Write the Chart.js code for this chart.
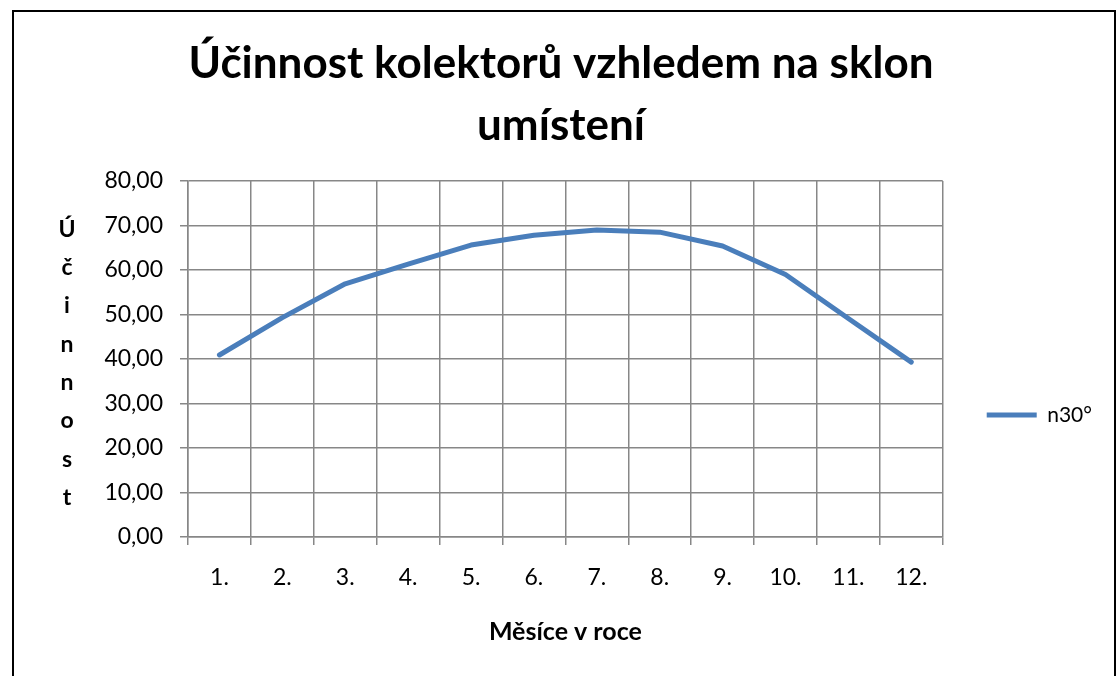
<!DOCTYPE html>
<html>
<head>
<meta charset="utf-8">
<script src="https://cdn.jsdelivr.net/npm/chart.js@4.4.1/dist/chart.umd.min.js"></script>
<style>
  html, body { margin: 0; padding: 0; background: #fff; }
  #wrap { position: absolute; left: 0; top: 0; width: 1116px; height: 676px; }
</style>
</head>
<body>
<div id="wrap"><canvas id="c" width="1116" height="676"></canvas></div>
<script>
const chartTitle = ['Účinnost kolektorů vzhledem na sklon', 'umístení'];
const months = ['1.', '2.', '3.', '4.', '5.', '6.', '7.', '8.', '9.', '10.', '11.', '12.'];
const seriesName = 'n30°';
const efficiency = [40.9, 49.3, 56.9, 61.3, 65.6, 67.8, 69.0, 68.5, 65.4, 59.0, 49.1, 39.3];
const yTitle = 'Účinnost';
const xTitle = 'Měsíce v roce';
const yMin = 0, yMax = 80, yStep = 10;

const FONT = 'Lato, "Open Sans", "DejaVu Sans", sans-serif';
const GRID = '#878787';

const framePlugin = {
  id: 'frame',
  beforeDraw(chart) {
    const ctx = chart.ctx;
    ctx.save();
    ctx.fillStyle = '#fff';
    ctx.fillRect(0, 0, chart.width, chart.height);
    ctx.strokeStyle = '#000';
    ctx.lineWidth = 2;
    ctx.strokeRect(13, 11, 1102, 700);
    ctx.restore();
  }
};

const yTitlePlugin = {
  id: 'stackedYTitle',
  afterDraw(chart) {
    const ctx = chart.ctx;
    const a = chart.chartArea;
    const letters = Array.from(yTitle);
    const step = 38.3;
    const cy = (a.top + a.bottom) / 2 + 4.5;
    ctx.save();
    ctx.font = 'bold 23px ' + FONT;
    ctx.fillStyle = '#000';
    ctx.textAlign = 'center';
    ctx.textBaseline = 'middle';
    letters.forEach((ch, i) => {
      ctx.fillText(ch, 67, cy + (i - (letters.length - 1) / 2) * step);
    });
    ctx.restore();
  }
};

new Chart(document.getElementById('c'), {
  type: 'line',
  data: {
    labels: months,
    datasets: [{
      label: seriesName,
      data: efficiency,
      borderColor: '#4a7ebb',
      backgroundColor: '#4a7ebb',
      borderWidth: 5,
      borderCapStyle: 'round',
      borderJoinStyle: 'round',
      pointRadius: 0,
      pointHoverRadius: 0,
      pointStyle: 'line',
      tension: 0,
      fill: false
    }]
  },
  plugins: [framePlugin, yTitlePlugin],
  options: {
    responsive: false,
    animation: false,
    events: [],
    layout: { padding: { left: 20, right: 14, top: 0, bottom: 0 } },
    plugins: {
      tooltip: { enabled: false },
      title: {
        display: true,
        text: chartTitle,
        color: '#000',
        font: { family: FONT, size: 44, weight: 'bold', lineHeight: 62 / 44 },
        padding: { top: 33, bottom: 24 }
      },
      legend: {
        display: true,
        position: 'right',
        fullSize: false,
        align: 'center',
        title: { display: true, text: '', font: { size: 10, lineHeight: 1.2 }, padding: { top: 100, bottom: 0 } },
        labels: {
          usePointStyle: true,
          pointStyle: 'line',
          pointStyleWidth: 50,
          padding: 44,
          color: '#000',
          font: { family: FONT, size: 21 }
        }
      }
    },
    scales: {
      x: {
        type: 'category',
        offset: true,
        grid: { display: true, offset: true, color: GRID, lineWidth: 1.5, tickLength: 8, drawTicks: true },
        border: { display: true, color: GRID, width: 1.5 },
        ticks: { color: '#000', font: { family: FONT, size: 23 }, padding: 19, maxRotation: 0, autoSkip: false },
        title: { display: true, text: xTitle, color: '#000', font: { family: FONT, size: 25, weight: 'bold', lineHeight: 1.2 }, padding: { top: 0, bottom: 29 } },
        afterFit(s) { s.height = 139; }
      },
      y: {
        min: yMin,
        max: yMax,
        grid: { color: GRID, lineWidth: 1.5, tickLength: 8, drawTicks: true },
        border: { display: true, color: GRID, width: 1.5 },
        ticks: {
          stepSize: yStep,
          color: '#000',
          padding: 17,
          font: { family: FONT, size: 23 },
          callback: (v) => Number(v).toFixed(2).replace('.', ',')
        },
        afterFit(s) { s.width = 168; }
      }
    }
  }
});
</script>
</body>
</html>
